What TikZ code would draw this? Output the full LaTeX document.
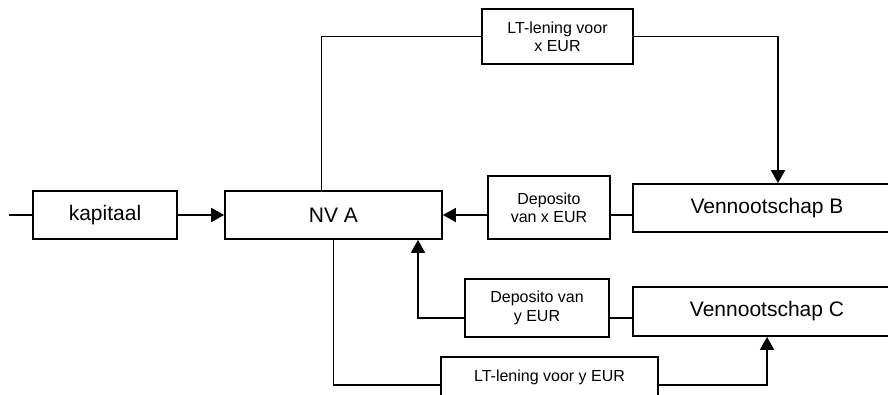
\documentclass[tikz,border=0pt]{standalone}
\usepackage{fontspec}
\setmainfont{Liberation Sans}
\usetikzlibrary{arrows.meta}

\begin{document}
\begin{tikzpicture}[
  x=1pt, y=-1pt,
  bigbox/.style={draw=black, line width=1.7pt, fill=white, inner sep=0pt, font=\fontsize{21}{25}\selectfont},
  smallbox/.style={draw=black, line width=1.7pt, fill=white, inner sep=0pt, align=center, font=\fontsize{16}{18.3}\selectfont},
  flow/.style={line width=1.7pt, -{Triangle[length=13pt,width=14pt]}},
  link/.style={line width=1.7pt},
]
\useasboundingbox (0,0) rectangle (888,394);
\clip (0,0) rectangle (888,394);

% --- main boxes ---
\node[bigbox, minimum width=144pt, minimum height=48pt] (kapitaal) at (105, 215) {kapitaal};
\node[bigbox, minimum width=217pt, minimum height=48pt] (nva) at (333.5, 215) {NV A};
\node[bigbox, minimum width=268pt, minimum height=48pt] (vb) at (767, 208) {Vennootschap B};
\node[bigbox, minimum width=268pt, minimum height=49pt] (vc) at (767, 311.5) {Vennootschap C};

% --- flow boxes ---
\node[smallbox, minimum width=151pt, minimum height=55pt] (ltx) at (557.5, 36.5) {LT-lening voor\\x EUR};
\node[smallbox, minimum width=122pt, minimum height=63pt] (depx) at (549, 207.5) {Deposito\\van x EUR};
\node[smallbox, minimum width=144pt, minimum height=58pt] (depy) at (537, 308) {Deposito van\\y EUR};

% --- connectors ---
\coordinate (start) at (9, 215);
\draw[link] (start) -- (kapitaal.west);
\draw[flow] (kapitaal.east) -- (nva.west);
\draw[link] (ltx.west) -| ([xshift=-12pt]nva.north);
\draw[flow] (ltx.east) -| ([xshift=11pt]vb.north);
\draw[link] (depx.east |- nva.east) -- (vb.west |- nva.east);
\draw[flow] (depx.west |- nva.east) -- (nva.east);
\draw[flow] ([yshift=-10pt]depy.west) -| ([xshift=84.5pt]nva.south);
\draw[link] ([yshift=-10pt]depy.east) -- ([yshift=-10pt]depy.east -| vc.west);
\draw[flow] (nva.south) |- ([yshift=-48pt]vc.south) -- (vc.south);

% --- bottom loan box, on top of its line ---
\node[smallbox, minimum width=217pt, minimum height=40pt] (lty) at (549.5, 377) {LT-lening voor y EUR};

\end{tikzpicture}
\end{document}
